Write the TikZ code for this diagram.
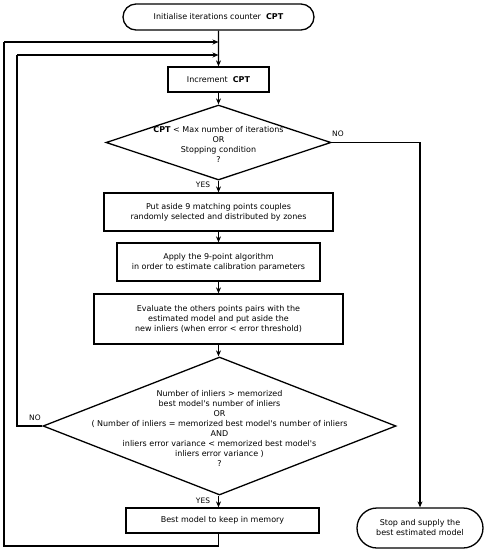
\documentclass[tikz,border=0pt]{standalone}
\usepackage{fontspec}
\setmainfont{DejaVu Sans}
\usetikzlibrary{shapes.geometric,shapes.misc,arrows.meta}
\newcommand{\apos}{\textquotesingle}
\begin{document}
\begin{tikzpicture}[x=1pt,y=-1pt,line width=1.3pt,
  font=\fontsize{8}{10}\selectfont,
  every node/.style={inner sep=0pt},
  txt/.style={align=center},
  boxnode/.style={draw,rectangle,align=center},
  termnode/.style={draw,rounded rectangle,align=center},
  decnode/.style={draw,diamond},
  flow/.style={-{Stealth[length=6pt,width=5pt]}},
  lbl/.style={font=\fontsize{7.5}{8}\selectfont}]
\useasboundingbox (0,0) rectangle (488,550);

\node[termnode,minimum width=191pt,minimum height=26pt] (start) at (218.5,17) {Initialise iterations counter \ \textbf{CPT}};
\node[boxnode,minimum width=101pt,minimum height=25pt] (incr) at (218.5,79.5) {Increment \ \textbf{CPT}};
\node[decnode,minimum width=225pt,minimum height=75pt] (d1) at (218.5,142.5) {};
\node[txt] (d1t) at (218.5,144) {\textbf{CPT} < Max number of iterations\\OR\\Stopping condition\\?};
\node[boxnode,minimum width=229pt,minimum height=38pt] (b2) at (218.5,212) {Put aside 9 matching points couples\\randomly selected and distributed by zones};
\node[boxnode,minimum width=203pt,minimum height=38pt] (b3) at (218.5,262) {Apply the 9-point algorithm\\in order to estimate calibration parameters};
\node[boxnode,minimum width=249pt,minimum height=50pt] (b4) at (218.5,319) {Evaluate the others points pairs with the\\estimated model and put aside the\\new inliers (when error < error threshold)};
\node[decnode,minimum width=353pt,minimum height=138pt] (d2) at (219.5,426) {};
\node[txt] (d2t) at (219.5,428) {Number of inliers > memorized\\best model\apos s number of inliers\\OR\\( Number of inliers = memorized best model\apos s number of inliers\\AND\\inliers error variance < memorized best model\apos s\\inliers error variance )\\?};
\node[boxnode,minimum width=193pt,minimum height=25pt] (best) at (222.5,520.5) {Best model to keep in memory};
\node[termnode,minimum width=126pt,minimum height=40pt] (stop) at (420,528) {Stop and supply the\\best estimated model};

\coordinate (jA) at (218.5,42);
\coordinate (jB) at (218.5,55);
\coordinate (cA) at (4,42);
\coordinate (cB) at (17,55);
\coordinate (cAbot) at (4,546);
\coordinate (bestout) at (218.5,533);
\coordinate (bestdown) at (218.5,546);
\coordinate (noR) at (420,142.5);

\draw[flow] (start) -- (incr);
\draw[flow] (cA) -- (jA);
\draw[flow] (cB) -- (jB);
\draw[flow] (incr) -- (d1);
\draw[flow] (d1) -- (b2);
\draw[flow] (b2) -- (b3);
\draw[flow] (b3) -- (b4);
\draw[flow] (b4.south) -- (b4.south |- d2.north);
\draw[flow] (d2.south -| b4.south) -- (b4.south |- best.north);
\draw[flow] (d1.east) -- (noR) -- (stop.north);
\draw (d2.west) -- (cB |- d2.west) -- (cB);
\draw (bestout) -- (bestdown) -- (cAbot) -- (cA);

\node[lbl] (no1) at (338,134) {NO};
\node[lbl] (yes1) at (203,185) {YES};
\node[lbl] (no2) at (35,418) {NO};
\node[lbl] (yes2) at (203,501) {YES};
\end{tikzpicture}
\end{document}
